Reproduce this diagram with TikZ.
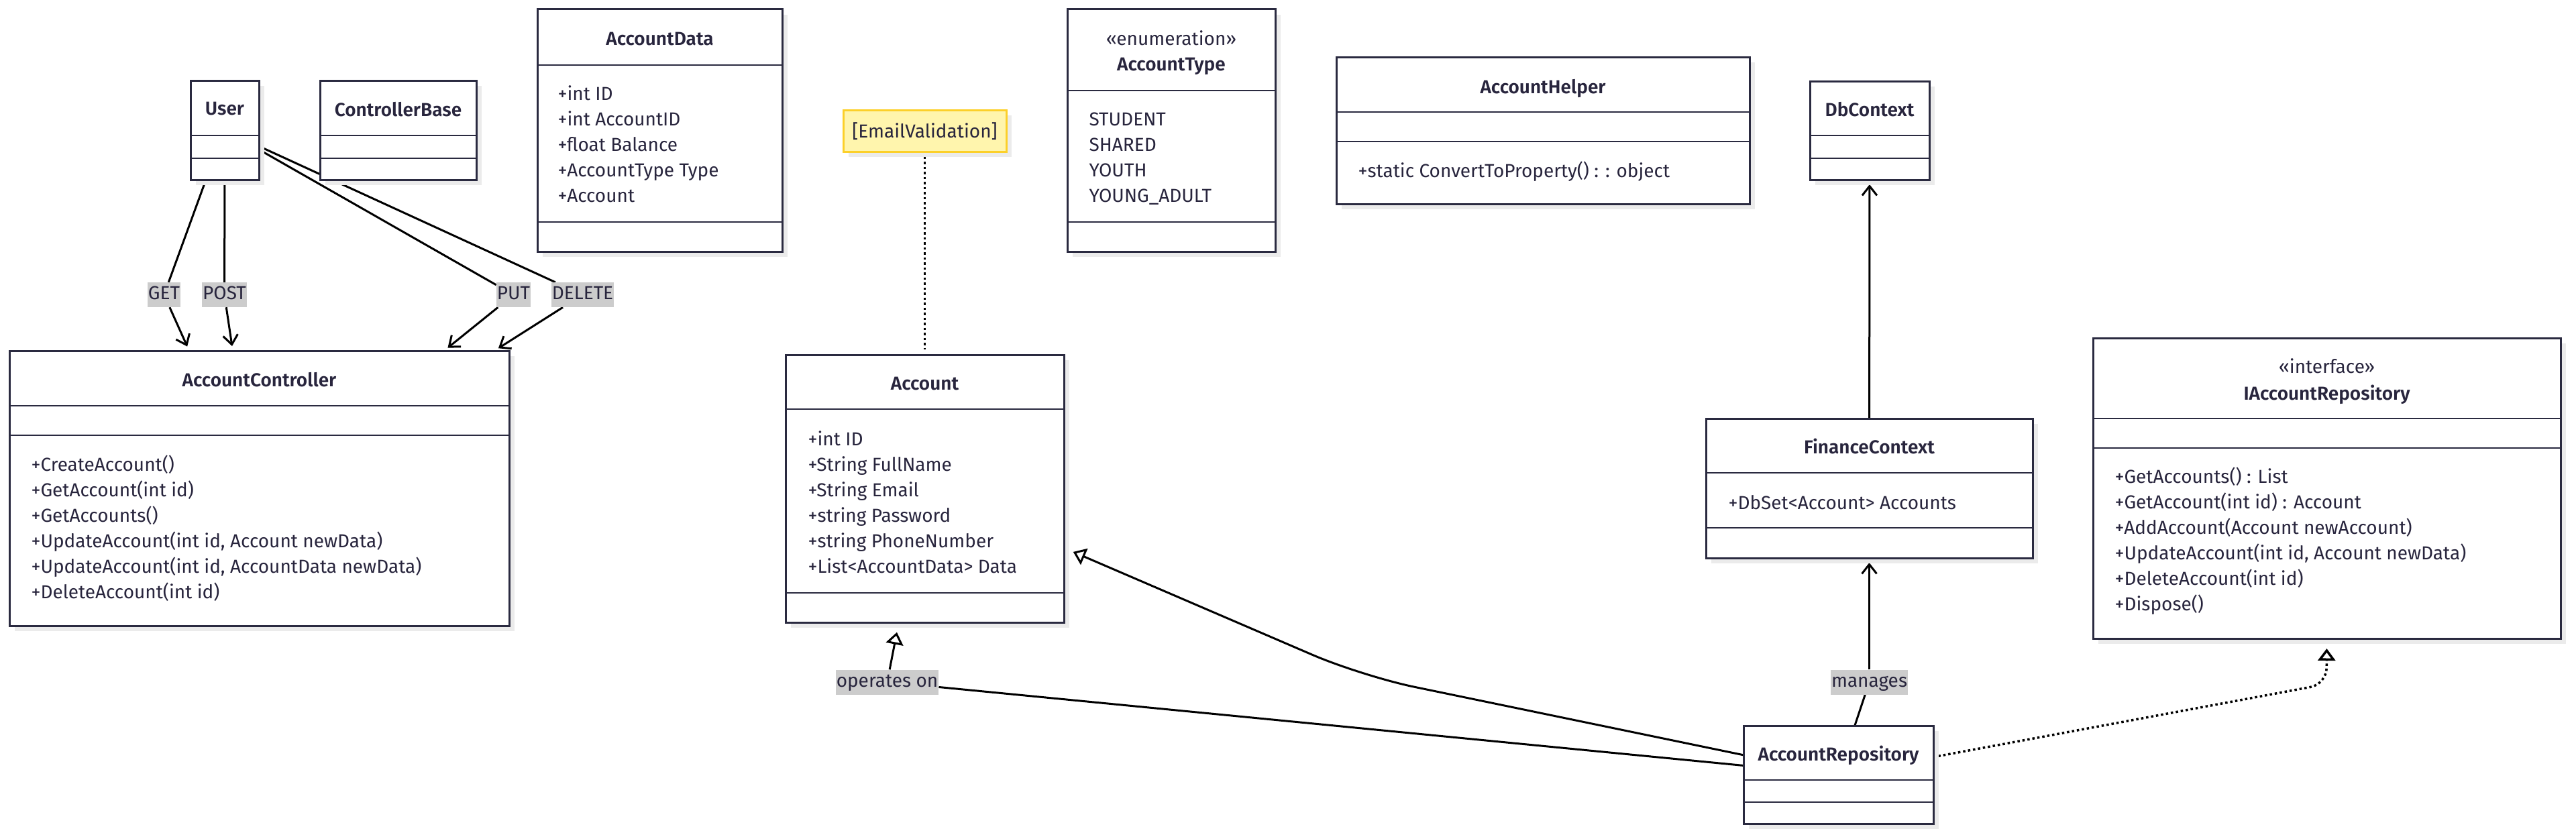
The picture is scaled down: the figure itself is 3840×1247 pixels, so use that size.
\documentclass[tikz,border=0pt]{standalone}
\usepackage{fontspec}
\setmainfont{Fira Sans}[BoldFont={Fira Sans SemiBold}]
\usetikzlibrary{arrows.meta,calc,shadows}

\definecolor{boxline}{HTML}{2A2A40}
\definecolor{textcol}{HTML}{28253D}
\definecolor{labelgray}{HTML}{CCCCCC}
\definecolor{notefill}{HTML}{FFF5AD}
\definecolor{notestroke}{HTML}{FCD02A}
\definecolor{boxshadow}{HTML}{EBEBEB}

\pgfdeclarelayer{paper}
\pgfdeclarelayer{links}
\pgfsetlayers{paper,links,main}

\tikzset{
  classbox/.style={draw=boxline, line width=3pt, fill=white, inner sep=0pt, outer sep=0pt,
    drop shadow={shadow xshift=8pt, shadow yshift=-8pt, fill=boxshadow, opacity=1}},
  notebox/.style={classbox, draw=notestroke, fill=notefill},
  divider/.style={draw=boxline, line width=2.5pt},
  title/.style={anchor=base, text=textcol, font=\bfseries},
  stereo/.style={anchor=base, text=textcol},
  member/.style={anchor=base west, text=textcol},
  httplabel/.style={fill=labelgray, text=textcol, inner xsep=1pt, inner ysep=0pt,
    minimum height=37pt, text height=19pt, text depth=5pt},
  assoc/.style={draw=black, line width=3pt},
  dep/.style={assoc, shorten >=7pt, -{Straight Barb[length=14pt,width=22pt]}},
  inherit/.style={assoc, shorten >=15pt, -{Triangle[open,length=18pt,width=26pt]}},
  realize/.style={inherit, line width=3.5pt, dash pattern=on 3.5pt off 4pt},
  noteline/.style={assoc, line width=3.5pt, dash pattern=on 3.5pt off 4pt, shorten >=8pt}
}

\begin{document}
\fontsize{28}{34}\selectfont
\begin{tikzpicture}[x=1pt, y=-1pt]

\begin{pgfonlayer}{paper}
\path[use as bounding box, fill=white] (0,0) rectangle (3840,1247);
\end{pgfonlayer}

% Top row
\node[classbox, minimum width=102pt, minimum height=148pt] (User) at (335,194) {};
\node[title] (User-title) at (335,171) {User};

\node[classbox, minimum width=233pt, minimum height=148pt] (ControllerBase) at (593.5,194) {};
\node[title] (ControllerBase-title) at (593.5,173) {ControllerBase};

\node[classbox, minimum width=365pt, minimum height=361pt] (AccountData) at (983.5,194.5) {};
\node[title] (AccountData-title) at (983.5,67) {AccountData};
\foreach \t [count=\i] in {+int ID, +int AccountID, +float Balance, +AccountType Type, +Account}
{
    \node[member] (AccountData-attr-\i) at (822,111+38*\i) {\t};
}

\node[notebox, minimum width=243pt, minimum height=62pt] (EmailValidation) at (1378.5,195) {};
\node[stereo] (EmailValidation-text) at (1378.5,205) {[EmailValidation]};

\node[classbox, minimum width=310pt, minimum height=361pt] (AccountType) at (1746,194.5) {};
\node[stereo] (AccountType-stereo) at (1746,67) {«enumeration»};
\node[title] (AccountType-title) at (1746,105) {AccountType};
\foreach \t [count=\i] in {STUDENT, SHARED, YOUTH, YOUNG\_ADULT}
{
    \node[member] (AccountType-value-\i) at (1614,149+38*\i) {\t};
}

\node[classbox, minimum width=616pt, minimum height=219pt] (AccountHelper) at (2300,194.5) {};
\node[title] (AccountHelper-title) at (2300,139) {AccountHelper};
\node[member] (AccountHelper-op-1) at (2015,264) {+static ConvertToProperty() : : object};

\node[classbox, minimum width=178pt, minimum height=147pt] (DbContext) at (2787,194.5) {};
\node[title] (DbContext-title) at (2787,173) {DbContext};

% Middle row
\node[classbox, minimum width=745pt, minimum height=410pt] (AccountController) at (386.5,728) {};
\node[title] (AccountController-title) at (386.5,576) {AccountController};
\foreach \t [count=\i] in {+CreateAccount(), +GetAccount(int id), +GetAccounts(),
    {+UpdateAccount(int id, Account newData)}, {+UpdateAccount(int id, AccountData newData)},
    +DeleteAccount(int id)}
{
    \node[member] (AccountController-op-\i) at (37,664+38*\i) {\t};
}

\node[classbox, minimum width=415pt, minimum height=399pt] (Account) at (1378.5,728.5) {};
\node[title] (Account-title) at (1378.5,581) {Account};
\foreach \t [count=\i] in {+int ID, +String FullName, +String Email, +string Password,
    +string PhoneNumber, +List<AccountData> Data}
{
    \node[member] (Account-attr-\i) at (1195,626+38*\i) {\t};
}

\node[classbox, minimum width=487pt, minimum height=208pt] (FinanceContext) at (2786.5,728) {};
\node[title] (FinanceContext-title) at (2786.5,676) {FinanceContext};
\node[member] (FinanceContext-attr-1) at (2567,759) {+DbSet<Account> Accounts};

\node[classbox, minimum width=697pt, minimum height=448pt] (IAccountRepository) at (3468.5,728) {};
\node[stereo] (IAccountRepository-stereo) at (3468.5,556) {«interface»};
\node[title] (IAccountRepository-title) at (3468.5,596) {IAccountRepository};
\foreach \t [count=\i] in {+GetAccounts() : List, +GetAccount(int id) : Account,
    +AddAccount(Account newAccount), {+UpdateAccount(int id, Account newData)},
    +DeleteAccount(int id), +Dispose()}
{
    \node[member] (IAccountRepository-op-\i) at (3143,682+38*\i) {\t};
}

% Bottom row
\node[classbox, minimum width=283pt, minimum height=146pt] (AccountRepository) at (2740.5,1155) {};
\node[title] (AccountRepository-title) at (2740.5,1134) {AccountRepository};

% Compartment lines
\foreach \n/\a/\b in {User/202/236, ControllerBase/202/236, AccountData/97/331,
    AccountType/135/331, AccountHelper/167/211, DbContext/202/236,
    AccountController/605/649, Account/610/884, FinanceContext/705/787,
    IAccountRepository/624/668, AccountRepository/1163/1196}
{
    \draw[divider] (\n.west |- 0,\a) -- (\n.east |- 0,\a);
    \draw[divider] (\n.west |- 0,\b) -- (\n.east |- 0,\b);
}

% Edge labels
\node[httplabel] (GET) at (244.5,439.5) {GET};
\node[httplabel] (POST) at (334.5,439.5) {POST};
\node[httplabel] (PUT) at (765.5,439.5) {PUT};
\node[httplabel] (DELETE) at (868.5,439.5) {DELETE};
\node[httplabel] (operates) at (1322.5,1017) {operates on};
\node[httplabel] (manages) at (2786.5,1017) {manages};

\begin{pgfonlayer}{links}
% User to AccountController
\draw[assoc] ($(User.south)+(-28,0)$) -- (GET);
\draw[dep] (GET) -- ($(AccountController.north west)+(268,0)$);
\draw[assoc] (User.south) -- (POST);
\draw[dep] (POST) -- ($(AccountController.north west)+(333,0)$);
\draw[assoc] ($(User.east)+(0,29)$) -- (PUT);
\draw[dep] (PUT) -- ($(AccountController.north west)+(648,0)$);
\draw[assoc] ($(User.east)+(0,24)$) -- (DELETE);
\draw[dep] (DELETE) -- ($(AccountController.north west)+(723,0)$);

% Note
\draw[noteline] (EmailValidation) -- (Account);

% Repository
\draw[inherit, rounded corners=80pt] (AccountRepository) -- (2030,1008) -- (Account);
\draw[assoc] (AccountRepository) -- (operates);
\draw[inherit] (operates) -- (Account);
\draw[assoc] (AccountRepository) -- (manages);
\draw[dep] (manages) -- (FinanceContext);
\draw[dep] (FinanceContext) -- (DbContext);
\draw[realize, rounded corners=24pt] (AccountRepository) -- (3468,1020) -- (IAccountRepository.south);
\end{pgfonlayer}

\end{tikzpicture}
\end{document}
